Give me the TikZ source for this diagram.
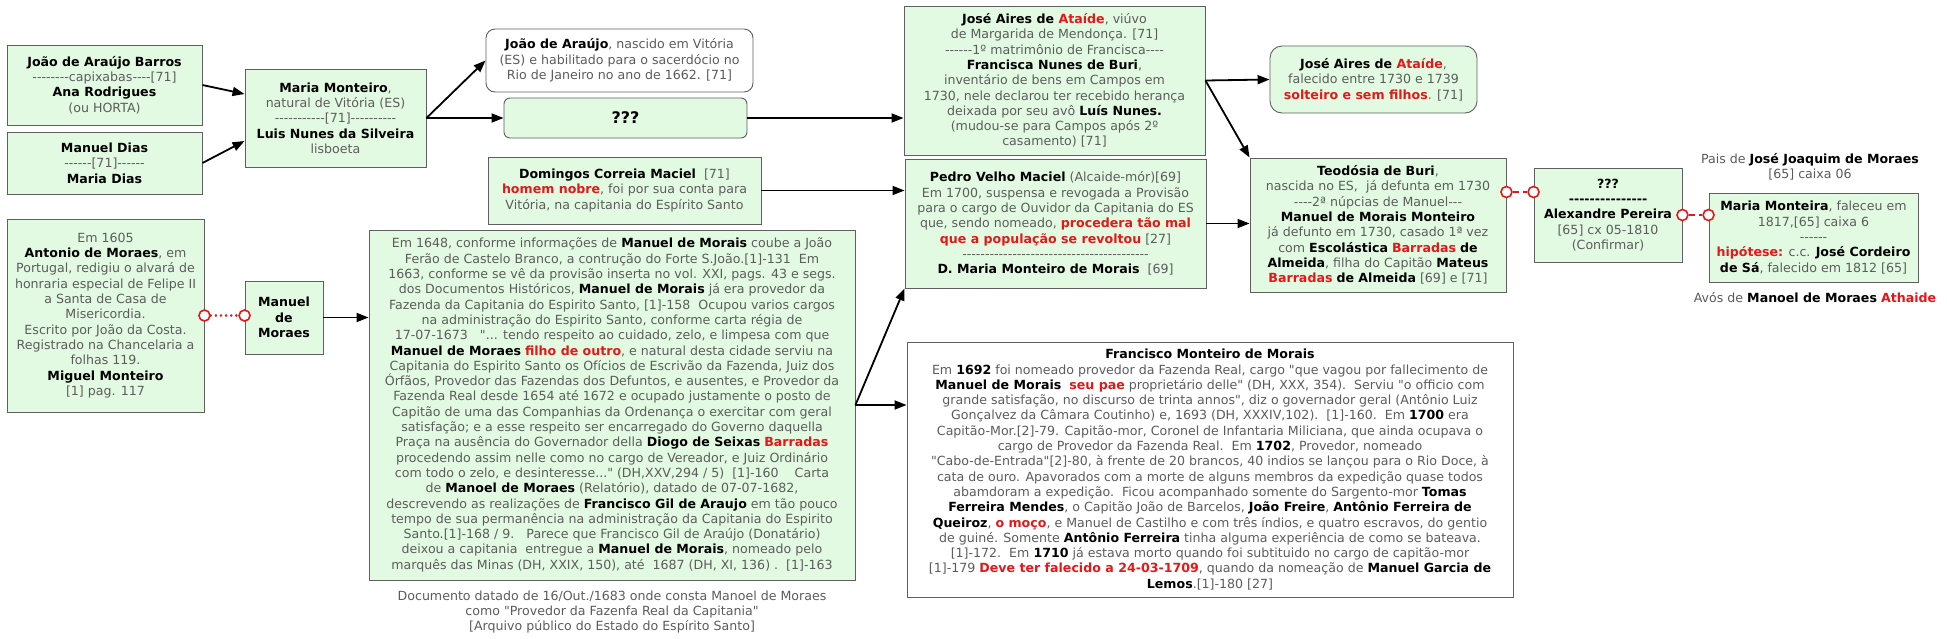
\documentclass[tikz,border=0pt]{standalone}
\usepackage{fontspec}
\newfontfamily\vf{DejaVu Sans}
\usetikzlibrary{arrows.meta,calc}
\definecolor{txt}{RGB}{92,92,92}
\definecolor{redx}{RGB}{228,24,24}
\definecolor{boxg}{RGB}{226,250,226}
\definecolor{bord}{RGB}{95,95,95}
\newcommand{\nm}[1]{{\bfseries\color{black}#1}}
\newcommand{\rd}[1]{{\bfseries\color{redx}#1}}
\tikzset{
 base/.style={font=\vf\fontsize{12.6}{15.3}\selectfont, text=txt, align=center, inner sep=0pt},
 gbox/.style={base, draw=bord, fill=boxg, line width=0.9pt},
 wbox/.style={base, draw=bord, fill=white, line width=0.9pt},
 arr/.style={-{Triangle[length=12pt,width=9pt]}, line width=1.8pt, black},
 dotlink/.style={redx, line width=2.6pt, dash pattern=on 0.1pt off 5pt, line cap=round},
 dashlink/.style={redx, line width=2pt, dash pattern=on 6pt off 4pt},
 ring/.style={circle, draw=redx, fill=white, line width=1.6pt, minimum size=11pt, inner sep=0pt},
}
\begin{document}
\begin{tikzpicture}[x=1pt,y=-1pt]
\useasboundingbox[fill=white] (0,0) rectangle (1947,638);

\node[gbox, minimum width=195pt, minimum height=80pt] (A) at (104.5,85)
 {\nm{João de Araújo Barros}\\--------capixabas----[71]\\\nm{Ana Rodrigues}\\(ou HORTA)};
\node[gbox, minimum width=195pt, minimum height=62pt] (B) at (104.5,163)
 {\nm{Manuel Dias}\\------[71]------\\\nm{Maria Dias}};
\node[gbox, minimum width=181pt, minimum height=98pt] (C) at (335.5,118)
 {\nm{Maria Monteiro},\\natural de Vitória (ES)\\-----------[71]----------\\\nm{Luis Nunes da Silveira}\\lisboeta};
\node[gbox, minimum width=197pt, minimum height=193pt] (D) at (105.5,315.5)
 {Em 1605\\\nm{Antonio de Moraes}, em\\Portugal, redigiu o alvará de\\honraria especial de Felipe II\\a Santa de Casa de\\Misericordia.\\Escrito por João da Costa.\\Registrado na Chancelaria a\\folhas 119.\\\nm{Miguel Monteiro}\\{}[1] pag. 117};
\node[gbox, minimum width=78pt, minimum height=73pt] (E) at (284,317.5)
 {\nm{Manuel}\\\nm{de}\\\nm{Moraes}};
\node[wbox, rounded corners=9pt, minimum width=267pt, minimum height=63pt] (F) at (619.5,60.5)
 {\nm{João de Araújo}, nascido em Vitória\\(ES) e habilitado para o sacerdócio no\\Rio de Janeiro no ano de 1662. [71]};
\node[gbox, rounded corners=6pt, minimum width=243pt, minimum height=40pt] (G) at (625.5,118)
 {\fontsize{16}{18}\selectfont\nm{???}};
\node[gbox, minimum width=273pt, minimum height=67pt] (H) at (624.5,190.5)
 {\nm{Domingos Correia Maciel}~~[71]\\\rd{homem nobre}, foi por sua conta para\\Vitória, na capitania do Espírito Santo};
\node[gbox, minimum width=486pt, minimum height=350pt] (I) at (612,405)
 {Em 1648, conforme informações de \nm{Manuel de Morais} coube a João\\
Ferão de Castelo Branco, a contrução do Forte S.João.[1]-131~~Em\\
1663, conforme se vê da provisão inserta no vol. XXI, pags. 43 e segs.\\
dos Documentos Históricos, \nm{Manuel de Morais} já era provedor da\\
Fazenda da Capitania do Espirito Santo, [1]-158~~Ocupou varios cargos\\
na administração do Espirito Santo, conforme carta régia de\\
17-07-1673~~~"... tendo respeito ao cuidado, zelo, e limpesa com que\\
\nm{Manuel de Moraes} \rd{filho de outro}, e natural desta cidade serviu na\\
Capitania do Espirito Santo os Ofícios de Escrivão da Fazenda, Juiz dos\\
Órfãos, Provedor das Fazendas dos Defuntos, e ausentes, e Provedor da\\
Fazenda Real desde 1654 até 1672 e ocupado justamente o posto de\\
Capitão de uma das Companhias da Ordenança o exercitar com geral\\
satisfação; e a esse respeito ser encarregado do Governo daquella\\
Praça na ausência do Governador della \nm{Diogo de Seixas} \rd{Barradas}\\
procedendo assim nelle como no cargo de Vereador, e Juiz Ordinário\\
com todo o zelo, e desinteresse..." (DH,XXV,294 / 5)~~[1]-160~~~~Carta\\
de \nm{Manoel de Moraes} (Relatório), datado de 07-07-1682,\\
descrevendo as realizações de \nm{Francisco Gil de Araujo} em tão pouco\\
tempo de sua permanência na administração da Capitania do Espirito\\
Santo.[1]-168 / 9.~~~Parece que Francisco Gil de Araújo (Donatário)\\
deixou a capitania~~entregue a \nm{Manuel de Morais}, nomeado pelo\\
marquês das Minas (DH, XXIX, 150), até~~1687 (DH, XI, 136) .~~[1]-163};
\node[base] (cap) at (612,612)
 {Documento datado de 16/Out./1683 onde consta Manoel de Moraes\\como "Provedor da Fazenfa Real da Capitania"\\{}[Arquivo público do Estado do Espírito Santo]};
\node[gbox, minimum width=301pt, minimum height=149pt] (J) at (1054.5,80.5)
 {\nm{José Aires de \rd{Ataíde}}, viúvo\\de Margarida de Mendonça. [71]\\------1º matrimônio de Francisca----\\\nm{Francisca Nunes de Buri},\\inventário de bens em Campos em\\1730, nele declarou ter recebido herança\\deixada por seu avô \nm{Luís Nunes.}\\(mudou-se para Campos após 2º\\casamento) [71]};
\node[gbox, rounded corners=12pt, minimum width=207pt, minimum height=67pt] (K) at (1373.5,79.5)
 {\nm{José Aires de \rd{Ataíde}},\\falecido entre 1730 e 1739\\\rd{solteiro e sem filhos}. [71]};
\node[gbox, minimum width=301pt, minimum height=129pt] (M) at (1055.5,223.5)
 {\nm{Pedro Velho Maciel} (Alcaide-mór)[69]\\Em 1700, suspensa e revogada a Provisão\\para o cargo de Ouvidor da Capitania do ES\\que, sendo nomeado, \rd{procedera tão mal}\\\rd{que a população se revoltou} [27]\\-----------------------------------------\\\nm{D. Maria Monteiro de Morais}~~[69]};
\node[gbox, minimum width=256pt, minimum height=134pt] (L) at (1378,225)
 {\nm{Teodósia de Buri},\\nascida no ES,~~já defunta em 1730\\----2ª núpcias de Manuel---\\\nm{Manuel de Morais Monteiro}\\já defunto em 1730, casado 1ª vez\\com \nm{Escolástica} \rd{Barradas} \nm{de}\\\nm{Almeida}, filha do Capitão \nm{Mateus}\\\rd{Barradas} \nm{de Almeida} [69] e [71]};
\node[gbox, minimum width=148pt, minimum height=94pt] (N) at (1608,215)
 {\nm{???}\\\nm{---------------}\\\nm{Alexandre Pereira}\\{}[65] cx 05-1810\\(Confirmar)};
\node[gbox, minimum width=209pt, minimum height=89pt] (O) at (1813.5,237.5)
 {\nm{Maria Monteira}, faleceu em\\1817,[65] caixa 6\\------\\\rd{hipótese:} c.c. \nm{José Cordeiro}\\\nm{de Sá}, falecido em 1812 [65]};
\node[base] (pais) at (1810,167) {Pais de \nm{José Joaquim de Moraes}\\{}[65] caixa 06};
\node[base] (avos) at (1815,298) {Avós de \nm{Manoel de Moraes} \rd{Athaide}};
\node[wbox, minimum width=606pt, minimum height=255pt] (P) at (1210,469.5)
 {\nm{Francisco Monteiro de Morais}\\
Em \nm{1692} foi nomeado provedor da Fazenda Real, cargo "que vagou por fallecimento de\\
\nm{Manuel de Morais}~~\rd{seu pae} proprietário delle" (DH, XXX, 354).~~Serviu "o officio com\\
grande satisfação, no discurso de trinta annos", diz o governador geral (Antônio Luiz\\
Gonçalvez da Câmara Coutinho) e, 1693 (DH, XXXIV,102).~~[1]-160.~~Em \nm{1700} era\\
Capitão-Mor.[2]-79. Capitão-mor, Coronel de Infantaria Miliciana, que ainda ocupava o\\
cargo de Provedor da Fazenda Real.~~Em \nm{1702}, Provedor, nomeado\\
"Cabo-de-Entrada"[2]-80, à frente de 20 brancos, 40 indios se lançou para o Rio Doce, à\\
cata de ouro. Apavorados com a morte de alguns membros da expedição quase todos\\
abamdoram a expedição.~~Ficou acompanhado somente do Sargento-mor \nm{Tomas}\\
\nm{Ferreira Mendes}, o Capitão João de Barcelos, \nm{João Freire}, \nm{Antônio Ferreira de}\\
\nm{Queiroz}, \rd{o moço}, e Manuel de Castilho e com três índios, e quatro escravos, do gentio\\
de guiné. Somente \nm{Antônio Ferreira} tinha alguma experiência de como se bateava.\\
{}[1]-172.~~Em \nm{1710} já estava morto quando foi subtituido no cargo de capitão-mor\\
{}[1]-179 \rd{Deve ter falecido a 24-03-1709}, quando da nomeação de \nm{Manuel Garcia de}\\
\nm{Lemos}.[1]-180 [27]};

% arrows
\draw[arr] (A.east) -- ($(C.west)+(0,-24)$);
\draw[arr] (B.east) -- ($(C.west)+(0,23)$);
\draw[arr] (C.east) -- (F.west);
\draw[arr] (C.east) -- (G.west);
\draw[arr] (G.east) -- (G.east -| J.west);
\draw[arr] (H.east) -- (H.east -| M.west);
\draw[arr] (E.east) -- (E.east -| I.west);
\draw[arr] (I.east) -- (I.east -| P.west);
\draw[arr] (I.east) -- (M.south west);
\draw[arr] (J.east) -- (K.west);
\draw[arr] (J.east) -- (L.north west);
\draw[arr] (M.east) -- (M.east -| L.west);

% red links
\node[ring] (r1) at (D.east) {};
\node[ring] (r2) at (D.east -| E.west) {};
\draw[dotlink] (r1) -- (r2);
\node[ring] (r4) at ($(N.west)+(0,-23)$) {};
\node[ring] (r3) at (r4 -| L.east) {};
\draw[dashlink] (r3) -- (r4);
\node[ring] (r5) at (N.east) {};
\node[ring] (r6) at (N.east -| O.west) {};
\draw[dashlink] (r5) -- (r6);
\end{tikzpicture}
\end{document}
